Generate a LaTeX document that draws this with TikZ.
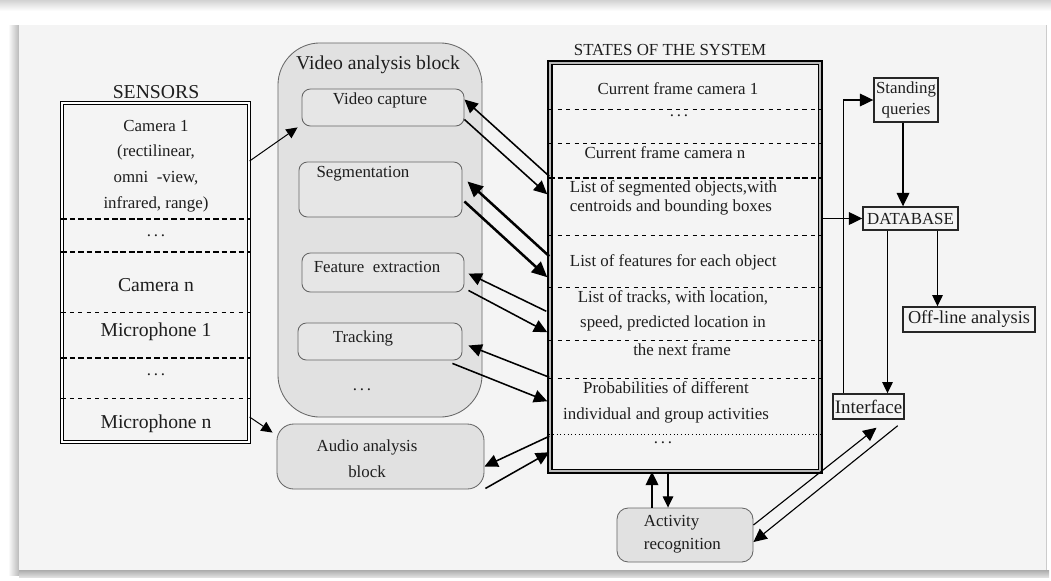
\documentclass[tikz,border=0pt]{standalone}
\usepackage{fontspec}
\setmainfont{Liberation Serif}
\usetikzlibrary{arrows.meta,positioning,calc}
\definecolor{paper}{HTML}{F4F4F4}
\definecolor{blockgray}{HTML}{E1E1E1}
\definecolor{subgray}{HTML}{E6E6E6}
\definecolor{ink}{HTML}{1E1E1E}

\begin{document}
\begin{tikzpicture}[x=0.025cm,y=-0.025cm,
  font=\fontsize{12}{14}\selectfont, text=ink,
  big/.style={font=\fontsize{14}{16}\selectfont},
  link/.style={-{Triangle[length=9.5pt,width=9pt]},line width=1.1pt},
  boldlink/.style={-{Triangle[length=11pt,width=10pt]},line width=1.8pt},
  thinlink/.style={-{Triangle[length=8pt,width=7.5pt]},line width=0.7pt},
  sub/.style={draw=black!60,fill=subgray,rounded corners=6pt,line width=0.6pt,inner sep=0pt},
  plain/.style={draw=black!85,line width=1pt,fill=paper,inner sep=1pt},
  sep/.style={dashed,line width=0.5pt},
  sepbold/.style={dash pattern=on 4pt off 2pt,line width=0.9pt}]
  \useasboundingbox (0,0) rectangle (1051,580);
  % page and frame
  \fill[white] (0,0) rectangle (1051,580);
  \shade[top color=gray!35,bottom color=white] (0,0) rectangle (1051,11);
  \shade[left color=white,right color=gray!55] (8,25) rectangle (19,575);
  \fill[paper] (19,25) rectangle (1046,570);
  \shade[top color=gray!65,bottom color=gray!25] (19,570) rectangle (1049,577);
  \draw[gray!40] (1046,25) -- (1046,570);

  % Sensors
  \node[big] (sensT) at (156,92) {SENSORS};
  \node[draw,double,double distance=1.3pt,line width=0.85pt,
        minimum width=4.675cm,minimum height=8.475cm,inner sep=0] (sens) at (155.5,272.5) {};
  \foreach \y in {219,252,358}
    \draw[sepbold] (sens.west |- 0,\y) -- (sens.east |- 0,\y);
  \foreach \y in {312,398}
    \draw[sep] (sens.west |- 0,\y) -- (sens.east |- 0,\y);
  \node[align=center,font=\fontsize{12}{18.3}\selectfont] (cam1) at (156,166)
    {Camera 1\\(rectilinear,\\omni\enspace-view,\\infrared, range)};
  \node (sdots1) at (156,236) {.\,.\,.};
  \node[big] (camn) at (156,285) {Camera n};
  \node[big] (mic1) at (156,332) {Microphone 1};
  \node (sdots2) at (156,375) {.\,.\,.};
  \node[big] (micn) at (156,424) {Microphone n};

  % Video analysis block
  \node[draw=black!60,fill=blockgray,rounded corners=30pt,line width=0.6pt,
        minimum width=5.1cm,minimum height=9.35cm] (video) at (380,230) {};
  \node[big] (videoT) at (378,65) {Video analysis block};
  \node[sub,minimum width=4.05cm,minimum height=0.925cm] (vcap) at (383,107.5) {};
  \node (vcapT) at (380,100) {Video capture};
  \node[sub,minimum width=4.075cm,minimum height=1.375cm] (seg) at (380.5,189.5) {};
  \node (segT) at (363,174) {Segmentation};
  \node[sub,minimum width=4.05cm,minimum height=0.975cm] (feat) at (383,272.5) {};
  \node (featT) at (377,267) {Feature\enspace extraction};
  \node[sub,minimum width=4.1cm,minimum height=0.925cm] (trk) at (380,341.5) {};
  \node (trkT) at (363,338) {Tracking};
  \node (vdots) at (362,390) {.\,.\,.};

  % Audio analysis block
  \node[sub,fill=blockgray,rounded corners=12pt,minimum width=5.175cm,minimum height=1.625cm] (audio) at (380.5,456.5) {};
  \node[align=center,font=\fontsize{12}{18.5}\selectfont] (audioT) at (367,459) {Audio analysis\\block};

  % States of the system
  \node (statesT) at (670,50) {STATES OF THE SYSTEM};
  \node[draw,double=gray!55,double distance=1.6pt,line width=1pt,
        minimum width=6.75cm,minimum height=10.2cm,inner sep=0] (states) at (685,267) {};
  \foreach \y in {109,143,235,287,340,378}
    \draw[sep] (states.west |- 0,\y) -- (states.east |- 0,\y);
  \draw[sepbold] (states.west |- 0,178) -- (states.east |- 0,178);
  \draw[dotted,line width=0.6pt] (states.west |- 0,434) -- (states.east |- 0,434);
  \node (st1) at (678,89) {Current frame camera 1};
  \node (stdots1) at (679,116) {.\,.\,.};
  \node (stn) at (665,153) {Current frame camera n};
  \node[anchor=west,align=left,font=\fontsize{12}{13}\selectfont] (stseg) at (565,198)
    {List of segmented objects,with\\centroids and bounding boxes};
  \node[anchor=west] (stfeat) at (565,262) {List of features for each object};
  \node[align=center,font=\fontsize{12}{17.8}\selectfont] (sttrk) at (673,310.5)
    {List of tracks, with location,\\speed, predicted location in};
  \node (stnext) at (682,350) {the next frame};
  \node[align=center,font=\fontsize{12}{18.5}\selectfont] (stprob) at (666,402)
    {Probabilities of different\\individual and group activities};
  \node (stdots2) at (663,443) {.\,.\,.};

  % Activity recognition
  \node[sub,fill=blockgray,rounded corners=8pt,minimum width=3.4cm,minimum height=1.35cm] (act) at (685,535) {};
  \node[anchor=west,align=left,font=\fontsize{12}{16.4}\selectfont] (actT) at (639,534.5) {Activity\\recognition};

  % Database side
  \node[plain,minimum width=1.6cm,minimum height=1.1cm,inner sep=0pt,align=center,
        font=\fontsize{12}{14.5}\selectfont] (stq) at (906,100) {Standing\\queries};
  \node[plain,minimum width=2.375cm,minimum height=0.575cm] (db) at (910.5,218.5) {DATABASE};
  \node[plain,minimum width=3.3cm,minimum height=0.625cm,font=\fontsize{13}{15}\selectfont] (offl) at (969,319.5) {Off-line analysis};
  \node[plain,minimum width=1.775cm,minimum height=0.625cm,font=\fontsize{13.5}{15}\selectfont] (iface) at (868.5,406.5) {Interface};

  % sensors to analysis blocks
  \draw[thinlink] ($(sens.east |- cam1)+(0,-5)$) -- ($(vcap.south west)+(-4,1)$);
  \draw[thinlink] ($(sens.east |- micn)+(0,-7)$) -- ($(audio.north west)+(-4,9)$);
  % video analysis <-> states
  \draw[link] ($(states.north west)+(0,114)$) -- ($(vcap.east)+(0,-8)$);
  \draw[link] ($(vcap.east)+(0,12)$) -- ($(states.north west)+(-2,132)$);
  \draw[boldlink] ($(states.north west)+(0,194)$) -- ($(seg.east)+(5,-8)$);
  \draw[boldlink] ($(seg.east)+(2,12)$) -- ($(states.north west)+(-2,215)$);
  \draw[link] ($(states.north west)+(-3,249)$) -- ($(feat.east)+(4,1)$);
  \draw[link] ($(feat.south east)+(4,-2)$) -- ($(states.north west)+(-2,270)$);
  \draw[link] ($(states.north west)+(0,315)$) -- ($(trk.east)+(6,4)$);
  \draw[link] ($(trk.south east)+(-10,3)$) -- ($(states.north west)+(-2,339)$);
  \draw[link] ($(states.north west)+(0,374)$) -- ($(audio.east)+(0,10)$);
  \draw[link] ($(audio.south east)+(1,-1)$) -- ($(states.north west)+(0,390)$);
  % states <-> activity recognition
  \draw[link] ($(act.north)+(-33,0)$) -- ($(states.south)+(-33,0)$);
  \draw[thinlink,line width=0.9pt] ($(states.south)+(-17,0)$) -- ($(act.north)+(-17,0)$);
  % activity <-> interface
  \draw[link,line width=0.8pt] ($(act.east)+(0,-10)$) -- ($(iface.south)+(8,8)$);
  \draw[link,line width=0.8pt] ($(iface.south east)+(-7,6)$) -- ($(act.east)+(0,7)$);
  % database connections
  \draw[link,line width=0.9pt] (states.east |- db) -- (db.west);
  \draw[link,line width=0.8pt] ($(iface.north)+(-25,0)$) |- (stq.west);
  \draw[link,line width=0.9pt] ($(stq.south)+(-3,0)$) coordinate (q1) -- (q1 |- db.north);
  \draw[thinlink,line width=0.9pt] ($(db.south)+(-23,0)$) coordinate (d1) -- (d1 |- iface.north);
  \draw[thinlink,line width=0.9pt] ($(db.south)+(27,0)$) coordinate (d2) -- (d2 |- offl.north);
\end{tikzpicture}
\end{document}
